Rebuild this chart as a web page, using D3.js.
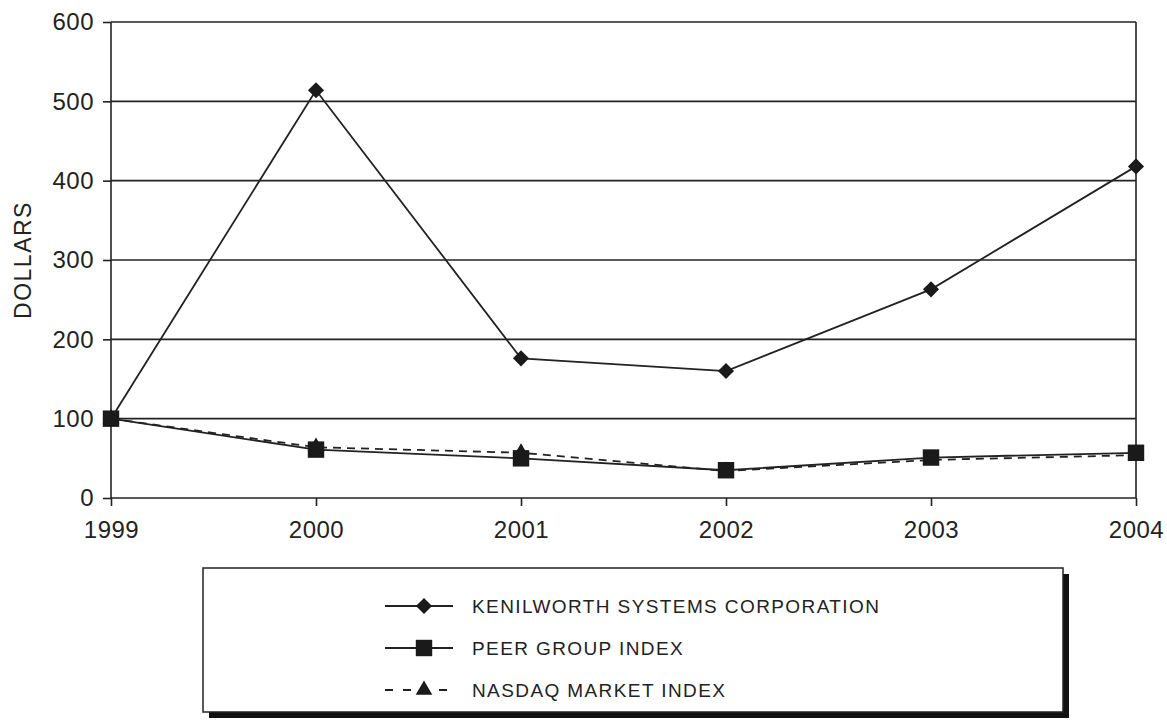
<!DOCTYPE html>
<html lang="en">
<head>
<meta charset="UTF-8" />
<title>Kenilworth performance graph</title>
<script src="https://d3js.org/d3.v7.min.js"></script>
<style>
  body { margin: 0; background: #fff; }
  svg { display: block; font-family: "Liberation Sans", Arial, sans-serif; }
  .tick text { fill: #222; }
</style>
</head>
<body>
<svg id="chart" width="1167" height="721"></svg>
<script>
const years = [1999, 2000, 2001, 2002, 2003, 2004];
const kenilworth = [100, 514, 176, 160, 263, 418];
const peerGroup = [100, 61, 50, 35, 51, 57];
const nasdaq = [100, 64, 57, 34, 48, 54];
const yTicks = [0, 100, 200, 300, 400, 500, 600];
const seriesNames = ["KENILWORTH SYSTEMS CORPORATION", "PEER GROUP INDEX", "NASDAQ MARKET INDEX"];

const ink = "#222";
const svg = d3.select("#chart");
const margin = { left: 111, right: 31, top: 22, bottom: 223 };
const W = 1167, H = 721;

const x = d3.scalePoint().domain(years).range([margin.left, W - margin.right]);
const y = d3.scaleLinear().domain([0, 600]).range([H - margin.bottom, margin.top]);

// horizontal grid
svg.append("g")
  .selectAll("line")
  .data(yTicks.filter(d => d > 0))
  .join("line")
  .attr("x1", x(1999)).attr("x2", x(2004))
  .attr("y1", d => y(d)).attr("y2", d => y(d))
  .attr("stroke", ink).attr("stroke-width", 1.6);

// right border
svg.append("line")
  .attr("x1", x(2004)).attr("x2", x(2004))
  .attr("y1", y(600)).attr("y2", y(0))
  .attr("stroke", ink).attr("stroke-width", 1.6);

// y axis
const yAxis = svg.append("g")
  .attr("transform", `translate(${x(1999)},0)`)
  .call(d3.axisLeft(y).tickValues(yTicks).tickSize(8).tickPadding(9));
yAxis.selectAll("path, line").attr("stroke", ink).attr("stroke-width", 1.6);
yAxis.select(".domain").attr("d", `M0,${y(600)}V${y(0)}`);
yAxis.selectAll("text").attr("font-size", 24).style("letter-spacing", "0.5px");

// x axis
const xAxis = svg.append("g")
  .attr("transform", `translate(0,${y(0)})`)
  .call(d3.axisBottom(x).tickSize(8).tickPadding(15));
xAxis.selectAll("path, line").attr("stroke", ink).attr("stroke-width", 1.6);
xAxis.select(".domain").attr("d", `M${x(1999)},0H${x(2004)}`);
xAxis.selectAll("text").attr("font-size", 24).style("letter-spacing", "0.5px");

// y label
svg.append("text")
  .attr("transform", `translate(31,${(y(600) + y(0)) / 2}) rotate(-90)`)
  .attr("text-anchor", "middle")
  .attr("font-size", 23)
  .attr("fill", ink)
  .style("letter-spacing", "1.5px")
  .text("DOLLARS");

const line = d3.line().x((d, i) => x(years[i])).y(d => y(d));

const sym = {
  diamond: d3.symbol().type(d3.symbolDiamond2).size(165),
  square: d3.symbol().type(d3.symbolSquare).size(270),
  triangle: d3.symbol().type(d3.symbolTriangle).size(120)
};

const series = [
  { name: seriesNames[2], values: nasdaq, dash: "8,6", marker: "triangle" },
  { name: seriesNames[1], values: peerGroup, dash: null, marker: "square" },
  { name: seriesNames[0], values: kenilworth, dash: null, marker: "diamond" }
];

series.forEach(s => {
  svg.append("path")
    .attr("d", line(s.values))
    .attr("fill", "none")
    .attr("stroke", ink)
    .attr("stroke-width", 1.8)
    .attr("stroke-dasharray", s.dash);
  svg.append("g")
    .selectAll("path")
    .data(s.values)
    .join("path")
    .attr("transform", (d, i) => `translate(${x(years[i])},${y(d)})`)
    .attr("d", sym[s.marker])
    .attr("fill", "#1a1a1a");
});

// legend
const lg = { x: 203, y: 568, w: 860, h: 144 };
svg.append("rect")
  .attr("x", lg.x + 6).attr("y", lg.y + 6)
  .attr("width", lg.w).attr("height", lg.h)
  .attr("fill", "#111");
svg.append("rect")
  .attr("x", lg.x).attr("y", lg.y)
  .attr("width", lg.w).attr("height", lg.h)
  .attr("fill", "#fff").attr("stroke", ink).attr("stroke-width", 1.5);

const legendItems = [
  { name: seriesNames[0], dash: null, marker: "diamond" },
  { name: seriesNames[1], dash: null, marker: "square" },
  { name: seriesNames[2], dash: "8,10", marker: "triangle" }
];
const rowY = d3.scalePoint().domain(legendItems.map(d => d.name)).range([606, 690]);

const rows = svg.append("g").selectAll("g")
  .data(legendItems)
  .join("g")
  .attr("transform", d => `translate(0,${rowY(d.name)})`);
rows.append("line")
  .attr("x1", 385).attr("x2", 453)
  .attr("stroke", ink).attr("stroke-width", 1.8)
  .attr("stroke-dasharray", d => d.dash);
rows.append("path")
  .attr("transform", "translate(424,0)")
  .attr("d", d => sym[d.marker]())
  .attr("fill", "#1a1a1a");
rows.append("text")
  .attr("x", 472).attr("dy", "0.36em")
  .attr("font-size", 19)
  .attr("fill", ink)
  .style("letter-spacing", "1.4px")
  .text(d => d.name);
</script>
</body>
</html>
